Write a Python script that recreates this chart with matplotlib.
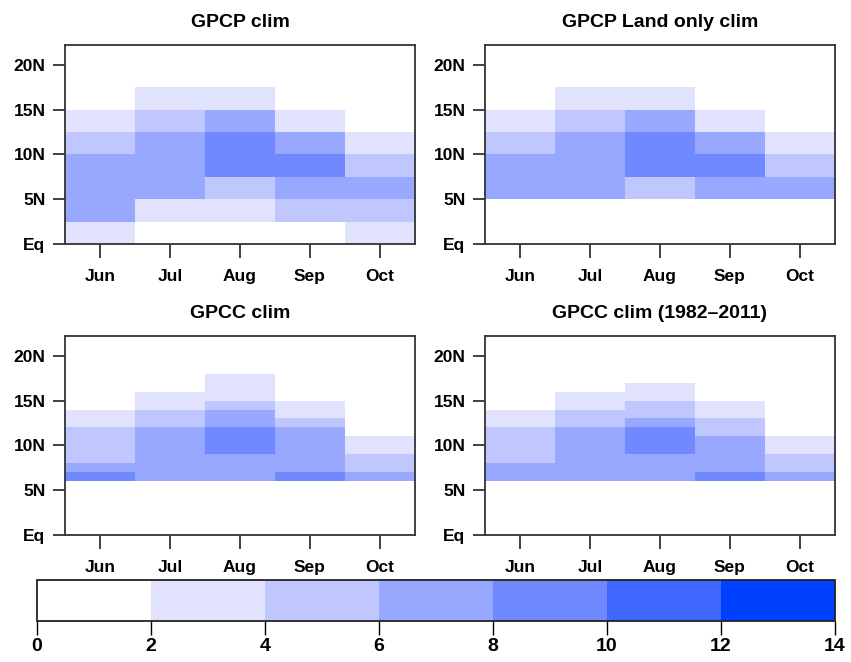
import numpy as np
import matplotlib
matplotlib.use("Agg")
import matplotlib.pyplot as plt
from matplotlib.colors import ListedColormap, BoundaryNorm

plt.rcParams['font.family'] = ['Liberation Sans', 'DejaVu Sans']
plt.rcParams['font.weight'] = 'bold'

months = ["Jun", "Jul", "Aug", "Sep", "Oct"]
ytick_vals = [0, 5, 10, 15, 20]
ytick_labels = ["Eq", "5N", "10N", "15N", "20N"]
levels = [0, 2, 4, 6, 8, 10, 12, 14]
colors = ["#FFFFFF", "#E0E2FE", "#BFC7FE", "#98A8FE", "#7089FF", "#3F66FF", "#0040FF"]

# GPCP 2.5-degree latitude band edges
gpcp_lat = [0, 2.5, 5, 7.5, 10, 12.5, 15, 17.5, 20]
# rows = months, columns = latitude bands (mm/day)
gpcp_clim = [
    [3, 7, 7, 7, 5, 3, 1, 1],   # Jun
    [1, 3, 7, 7, 7, 5, 3, 1],   # Jul
    [1, 3, 5, 9, 9, 7, 3, 1],   # Aug
    [1, 5, 7, 9, 7, 3, 1, 1],   # Sep
    [3, 5, 7, 5, 3, 1, 1, 1],   # Oct
]
gpcp_land = [
    [1, 1, 7, 7, 5, 3, 1, 1],
    [1, 1, 7, 7, 7, 5, 3, 1],
    [1, 1, 5, 9, 9, 7, 3, 1],
    [1, 1, 7, 9, 7, 3, 1, 1],
    [1, 1, 7, 5, 3, 1, 1, 1],
]
# GPCC 1-degree latitude band edges (6N-18N)
gpcc_lat = [6, 7, 8, 9, 10, 11, 12, 13, 14, 15, 16, 17, 18]
gpcc_clim = [
    [9, 7, 5, 5, 5, 5, 3, 3, 1, 1, 1, 1],   # Jun
    [7, 7, 7, 7, 7, 7, 5, 5, 3, 3, 1, 1],   # Jul
    [7, 7, 7, 9, 9, 9, 7, 7, 5, 3, 3, 3],   # Aug
    [9, 7, 7, 7, 7, 7, 5, 3, 3, 1, 1, 1],   # Sep
    [7, 5, 5, 3, 3, 1, 1, 1, 1, 1, 1, 1],   # Oct
]
gpcc_8211 = [
    [7, 7, 5, 5, 5, 5, 3, 3, 1, 1, 1, 1],
    [7, 7, 7, 7, 7, 7, 5, 5, 3, 3, 1, 1],
    [7, 7, 7, 9, 9, 9, 7, 5, 5, 3, 3, 1],
    [9, 7, 7, 7, 7, 5, 5, 3, 3, 1, 1, 1],
    [7, 5, 5, 3, 3, 1, 1, 1, 1, 1, 1, 1],
]
titles = ["GPCP clim", "GPCP Land only clim", "GPCC clim", "GPCC clim (1982\u20132011)"]

cmap = ListedColormap(colors)
norm = BoundaryNorm(levels, cmap.N)

W, H = 851, 662
fig = plt.figure(figsize=(W / 100, H / 100), dpi=100)

def rect(l, t, r, b):
    return [l / W, 1 - b / H, (r - l) / W, (b - t) / H]

boxes = [rect(65, 45, 415, 244), rect(485, 45, 835, 244),
         rect(65, 336, 415, 535), rect(485, 336, 835, 535)]
datasets = [(gpcp_lat, gpcp_clim), (gpcp_lat, gpcp_land),
            (gpcc_lat, gpcc_clim), (gpcc_lat, gpcc_8211)]

xedges = np.arange(len(months) + 1) - 0.5
mesh = None
for box, (lat, vals), title in zip(boxes, datasets, titles):
    ax = fig.add_axes(box)
    z = np.array(vals, dtype=float).T
    mesh = ax.pcolormesh(xedges, lat, z, cmap=cmap, norm=norm,
                         shading="flat", antialiased=False, linewidth=0)
    ax.set_xlim(-0.5, 4.5)
    ax.set_ylim(0, 22.2)
    ax.set_xticks(range(len(months)))
    ax.set_xticklabels(months, fontsize=12.5, fontweight='bold')
    ax.set_yticks(ytick_vals)
    ax.set_yticklabels(ytick_labels, fontsize=12.5, fontweight='bold')
    ax.tick_params(axis='x', direction='out', length=10, width=1.3, pad=8, color='#333333')
    ax.tick_params(axis='y', direction='out', length=9, width=1.3, pad=5, color='#333333')
    for s in ax.spines.values():
        s.set_linewidth(1.3)
        s.set_color('#333333')
    ax.set_title(title, fontsize=14, fontweight='bold', pad=13)

cax = fig.add_axes(rect(37, 580, 835, 621))
cb = fig.colorbar(mesh, cax=cax, orientation='horizontal', ticks=levels)
cb.outline.set_linewidth(1.3)
cb.outline.set_edgecolor('#222222')
cax.tick_params(axis='x', direction='out', length=10, width=1.0, pad=2, labelsize=14)
for lbl in cax.get_xticklabels():
    lbl.set_fontweight('bold')

fig.savefig("out.png", dpi=100)
